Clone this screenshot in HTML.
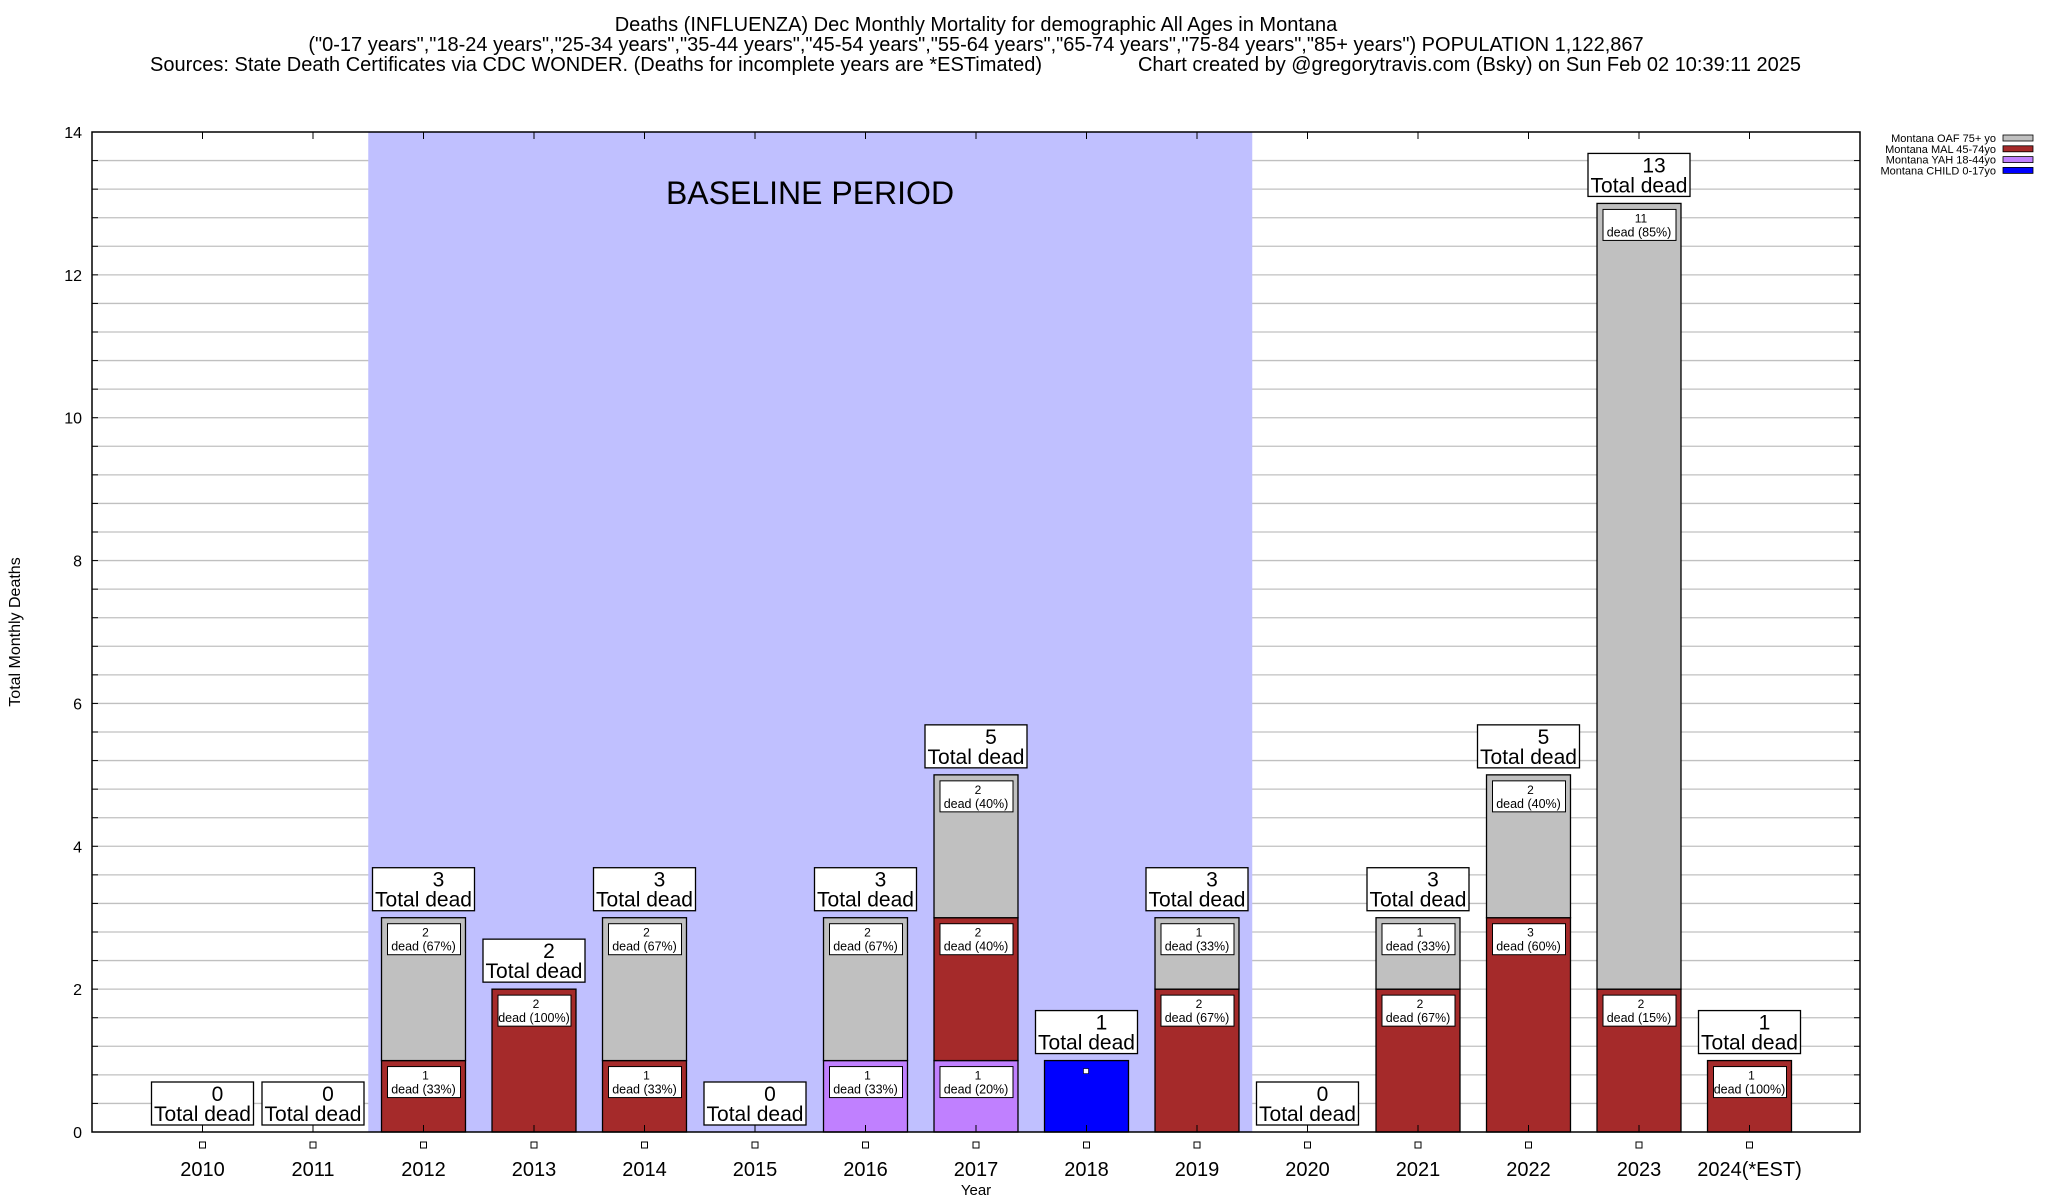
<!DOCTYPE html>
<html><head><meta charset="utf-8"><style>
html,body{margin:0;padding:0;background:#fff;}
svg{display:block;font-family:"Liberation Sans",sans-serif;}
</style></head><body>
<svg id="chart" width="2048" height="1200" viewBox="0 0 2048 1200" xmlns="http://www.w3.org/2000/svg">
<g font-size="20" text-anchor="middle">
<text x="976" y="31">Deaths (INFLUENZA) Dec Monthly Mortality for demographic All Ages in Montana</text>
<text x="976" y="51">("0-17 years","18-24 years","25-34 years","35-44 years","45-54 years","55-64 years","65-74 years","75-84 years","85+ years") POPULATION 1,122,867</text>
<text x="150" y="71" text-anchor="start" textLength="892" lengthAdjust="spacingAndGlyphs">Sources: State Death Certificates via CDC WONDER. (Deaths for incomplete years are *ESTimated)</text>
<text x="1138" y="71" text-anchor="start" textLength="663" lengthAdjust="spacingAndGlyphs">Chart created by @gregorytravis.com (Bsky) on Sun Feb 02 10:39:11 2025</text>
</g>
<g id="plot"></g>
<text x="20" y="632" font-size="16" text-anchor="middle" transform="rotate(-90 20 632)">Total Monthly Deaths</text>
<text x="976" y="1195" font-size="15" text-anchor="middle">Year</text>
<g font-size="11" text-anchor="end" id="legend"></g>
</svg>
<script>
const years = ["2010","2011","2012","2013","2014","2015","2016","2017","2018","2019","2020","2021","2022","2023","2024(*EST)"];
const child = [0,0,0,0,0,0,0,0,1,0,0,0,0,0,0];
const yah   = [0,0,0,0,0,0,1,1,0,0,0,0,0,0,0];
const mal   = [0,0,1,2,1,0,0,2,0,2,0,2,3,2,1];
const oaf   = [0,0,2,0,2,0,2,2,0,1,0,1,2,11,0];
const yTicks = [0,2,4,6,8,10,12,14];
const seriesNames = ["Montana OAF 75+ yo","Montana MAL 45-74yo","Montana YAH 18-44yo","Montana CHILD 0-17yo"];
const baselineStart = 2, baselineEnd = 9;

const NS="http://www.w3.org/2000/svg";
const L=92,R=1860,T=132,B=1132,YMAX=14;
const slot=(R-L)/16;
const xs=i=>L+(i+1)*slot;
const ys=v=>B-(v/YMAX)*(B-T);
const plot=document.getElementById('plot');
function mk(tag,attrs,parent,txt){const e=document.createElementNS(NS,tag);for(const k in attrs)e.setAttribute(k,attrs[k]);if(txt!==undefined)e.textContent=txt;(parent||plot).appendChild(e);return e;}

// grid
for(let v=0.4;v<YMAX-0.01;v+=0.4){
  mk('line',{x1:L,x2:R,y1:ys(v),y2:ys(v),stroke:'#c0c0c0','stroke-width':1.3});
  mk('line',{x1:L,x2:L+6,y1:ys(v),y2:ys(v),stroke:'#000'});
  mk('line',{x1:R-6,x2:R,y1:ys(v),y2:ys(v),stroke:'#000'});
}
// baseline shading (over grid)
const bs=mk('rect',{x:xs(baselineStart)-slot/2,y:T,width:(baselineEnd-baselineStart+1)*slot,height:B-T,fill:'#c0c0ff'});


const bt=mk('text',{x:810,y:204,'font-size':32,'text-anchor':'middle'},plot,'BASELINE PERIOD');


yTicks.forEach(v=>{
  const t=mk('text',{x:82,y:ys(v)+6,'font-size':16,'text-anchor':'end'},plot,v);
  
  
});
const colors=['#0000ff','#c080ff','#a52a2a','#c0c0c0'];
const segNames=['child','yah','mal','oaf'];
const bw=slot*0.76;
years.forEach((y,i)=>{
  const vals=[child[i],yah[i],mal[i],oaf[i]];
  const total=vals.reduce((a,b)=>a+b,0);
  const cx=xs(i);
  let acc=0;
  const labels=[];
  vals.forEach((v,k)=>{
    if(v<=0)return;
    const r=mk('rect',{x:cx-bw/2,y:ys(acc+v),width:bw,height:ys(acc)-ys(acc+v),fill:colors[k],stroke:'#000','stroke-width':1.3});
    
    
    labels.push([k,v,ys(acc+v)]);
    acc+=v;
  });
  labels.forEach(([k,v,top])=>{
    if(k===0){mk('rect',{x:cx-3,y:top+8,width:5,height:5,fill:'#fff',stroke:'#000','stroke-width':0.6});return;}
    const g=mk('g',{});
    
    
    mk('rect',{x:cx-36,y:top+6,width:73,height:31,fill:'#fff',stroke:'#000','stroke-width':1},g);
    mk('text',{x:cx+2,y:top+19,'font-size':12,'text-anchor':'middle'},g,v);
    mk('text',{x:cx,y:top+33,'font-size':12.5,'text-anchor':'middle'},g,'dead ('+Math.round(v/total*100)+'%)');
  });
  const tb=ys(total)-7;
  const g=mk('g',{});
  
  
  mk('rect',{x:cx-51,y:tb-43,width:102,height:43,fill:'#fff',stroke:'#000','stroke-width':1.3},g);
  mk('text',{x:cx+15,y:tb-24,'font-size':21,'text-anchor':'middle'},g,total);
  mk('text',{x:cx,y:tb-4,'font-size':21,'text-anchor':'middle'},g,'Total dead');
  mk('line',{x1:cx,x2:cx,y1:B,y2:B-7,stroke:'#000'});
  mk('line',{x1:cx,x2:cx,y1:T,y2:T+7,stroke:'#000'});
  mk('rect',{x:cx-3,y:1142,width:6,height:6,fill:'#fff',stroke:'#000','stroke-width':1});
  const xl=mk('text',{x:cx,y:1176,'font-size':20,'text-anchor':'middle'},plot,y);
  
  
});
mk('rect',{x:L,y:T,width:R-L,height:B-T,fill:'none',stroke:'#000','stroke-width':1.5});
const lg=document.getElementById('legend');
const legColors=['#c0c0c0','#a52a2a','#c080ff','#0000ff'];
seriesNames.forEach((n,k)=>{
  const yy=138+k*10.8;
  const e=mk('g',{},lg);
  
  
  mk('text',{x:1996,y:yy+4},e,n);
  mk('rect',{x:2003,y:yy-3,width:30,height:6,fill:legColors[k],stroke:'#000','stroke-width':0.8},e);
});
</script>
</body></html>
